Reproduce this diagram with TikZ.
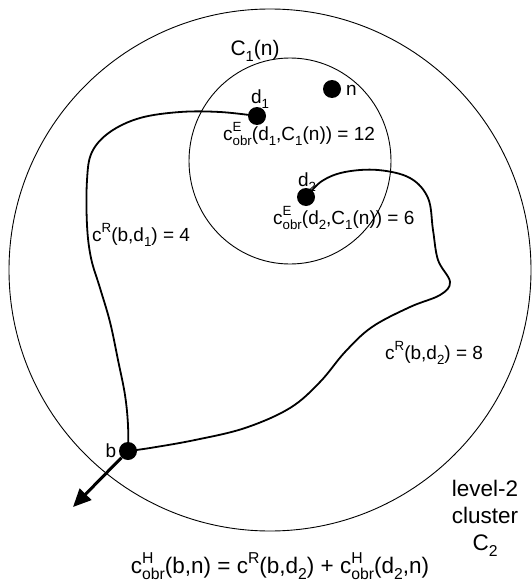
\documentclass[tikz,border=0pt]{standalone}
\usepackage{fontspec}
\usepackage{graphicx}
\setmainfont{Liberation Sans}
\usetikzlibrary{arrows.meta}
\newcommand\SPx[1]{\raisebox{0.45em}{\scalebox{0.7}{#1}}}
\newcommand\SBx[1]{\raisebox{-0.28em}{\scalebox{0.7}{#1}}}
\newcommand\SPSBx[2]{\makebox[0pt][l]{\SPx{#1}}\SBx{#2}}
\tikzset{
  dotnode/.style={circle,fill=black,inner sep=0pt,minimum size=18pt},
  lbl/.style={inner sep=0pt,font=\fontsize{19}{22}\selectfont},
  biglbl/.style={inner sep=0pt,font=\fontsize{22.5}{27}\selectfont,align=center},
  thin circle/.style={line width=0.9pt},
  pathline/.style={line width=1.8pt,line cap=round},
}
\begin{document}
\begin{tikzpicture}[x=1pt,y=-1pt]
\useasboundingbox (0,0) rectangle (532,586);
\fill[white] (0,0) rectangle (532,586);
% clusters
\draw[thin circle] (270,270) circle[radius=261];
\draw[thin circle] (290,161) ellipse[x radius=101,y radius=103];
% points
\node[dotnode] (d1) at (257,116) {};
\node[dotnode] (n) at (332,89) {};
\node[dotnode] (d2) at (306,197) {};
\node[dotnode] (b) at (128,451) {};
\coordinate (out) at (73,507);
% paths
\draw[pathline] plot[smooth,tension=0.6] coordinates {(b) (128,425) (125,395) (118,360) (110,322) (100,288) (91,258) (87,225) (87,180) (92,152) (110,132) (140,118) (180,112) (220,112) (257,116)};
\draw[pathline] plot[smooth,tension=0.6] coordinates {(306,197) (322,181) (345,172) (378,170) (410,178) (428,198) (433,230) (438,260) (450,282) (440,295) (410,307) (372,327) (345,352) (320,382) (290,408) (245,428) (195,440) (150,448) (b)};
\draw[line width=3pt,-{Triangle[length=18pt,width=16pt]}] (b) -- (out);
% labels
\node[lbl,font=\fontsize{21}{24}\selectfont] (c1n) at (255,51) {C\SBx{1}(n)};
\node[lbl,anchor=west] (nl) at (346,90) {n};
\node[lbl] (d1l) at (260,99) {d\SBx{1}};
\node[lbl,anchor=west] (e1) at (223,134) {c\SPSBx{E}{obr}(d\SBx{1},C\SBx{1}(n)) = 12};
\node[lbl] (d2l) at (307,182) {d\SBx{2}};
\node[lbl,anchor=west] (e2) at (273,218) {c\SPSBx{E}{obr}(d\SBx{2},C\SBx{1}(n)) = 6};
\node[lbl,anchor=west] (r1) at (92,235) {c\SPx{R}(b,d\SBx{1}) = 4};
\node[lbl,anchor=west] (r2) at (385,353) {c\SPx{R}(b,d\SBx{2}) = 8};
\node[lbl] (bl) at (111,451) {b};
\node[biglbl] (cl) at (485,518) {level-2\\cluster\\C\SBx{2}};
\node[biglbl] (form) at (280,566) {c\SPSBx{H}{obr}(b,n) = c\SPx{R}(b,d\SBx{2}) + c\SPSBx{H}{obr}(d\SBx{2},n)};
\end{tikzpicture}
\end{document}
